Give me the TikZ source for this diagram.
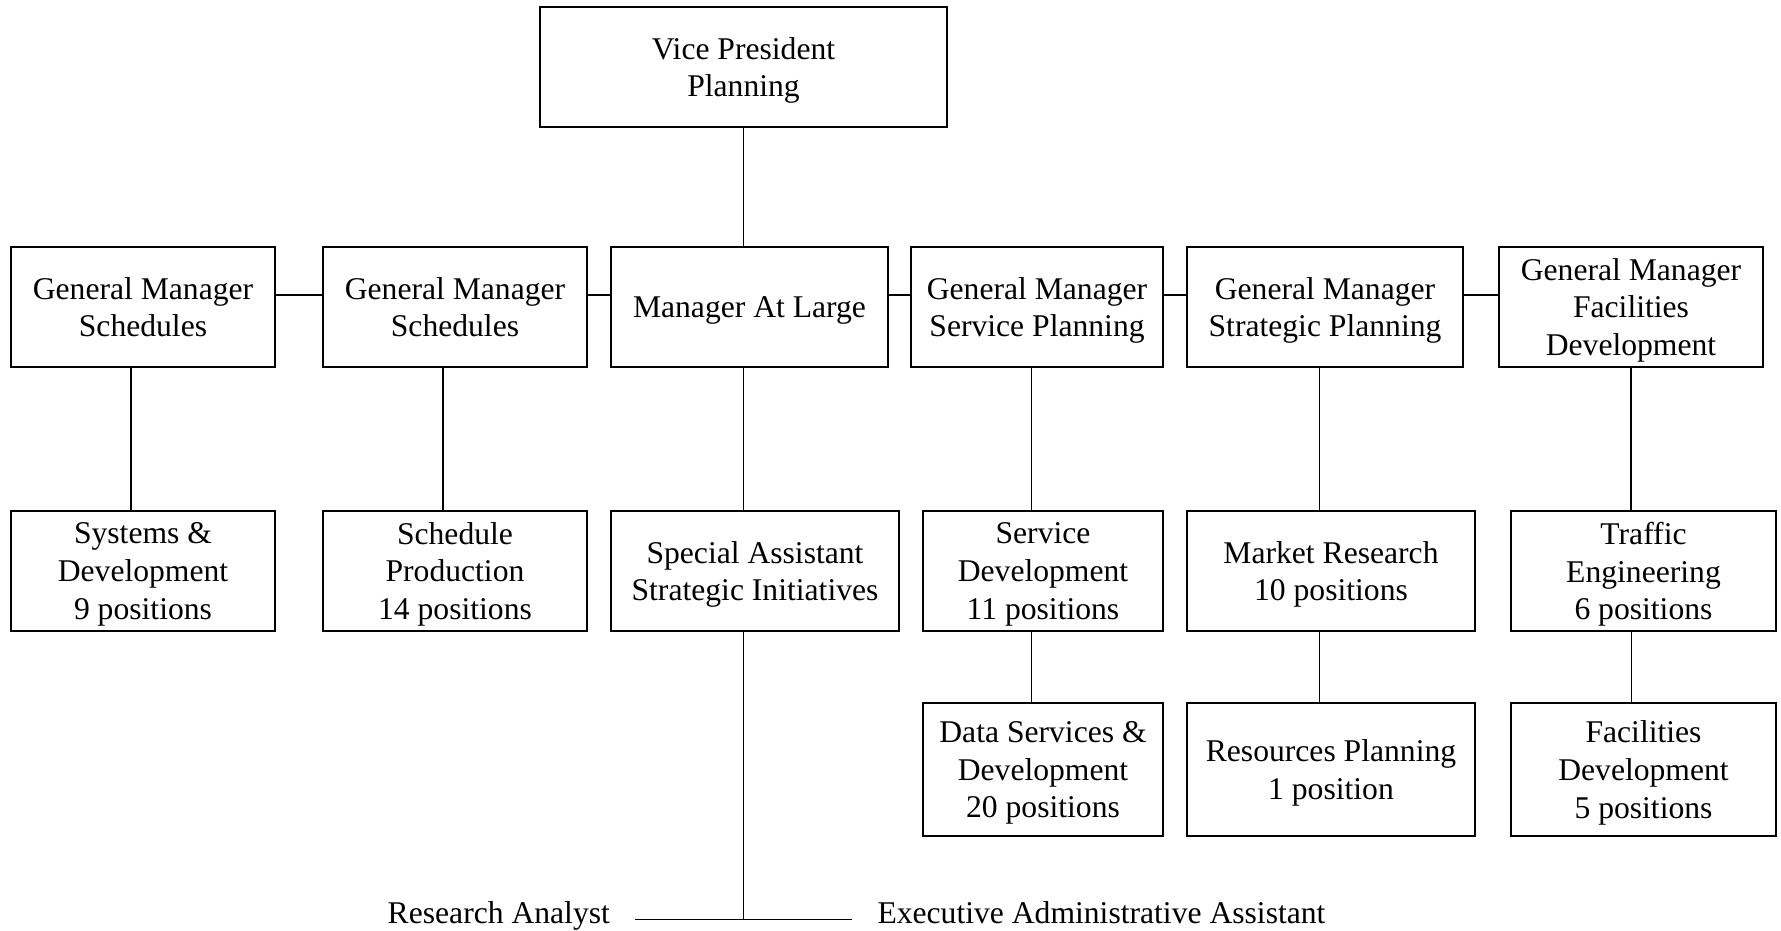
\documentclass[tikz,border=0pt]{standalone}
\usepackage{fontspec}
\setmainfont{Liberation Serif}

\begin{document}
\begin{tikzpicture}[x=0.02cm,y=-0.02cm,line width=0.9pt,
    box node/.style={draw,align=center,inner sep=0pt,text depth=0pt,minimum height=2.4cm,font=\fontsize{18}{21.4}\selectfont},
    tall node/.style={box node,minimum height=2.66cm},
    side label/.style={inner sep=0pt,font=\fontsize{18}{21.4}\selectfont}]
    \useasboundingbox (0,0) rectangle (1781,930);

    % top
    \node[box node,minimum width=8.14cm] (vp) at (743.5,67) {Vice President\\Planning};

    % general managers
    \node[box node,minimum width=5.28cm] (gm1) at (143,307) {General Manager\\Schedules};
    \node[box node,minimum width=5.28cm] (gm2) at (455,307) {General Manager\\Schedules};
    \node[box node,minimum width=5.54cm] (mal) at (749.5,307) {Manager At Large};
    \node[box node,minimum width=5.04cm] (gmsp) at (1037,307) {General Manager\\Service Planning};
    \node[box node,minimum width=5.52cm] (gmstrat) at (1325,307) {General Manager\\Strategic Planning};
    \node[box node,minimum width=5.28cm] (gmfac) at (1631,307) {General Manager\\Facilities\\Development};

    % sections
    \node[box node,minimum width=5.28cm] (sysdev) at (143,571) {Systems \&\\Development\\9 positions};
    \node[box node,minimum width=5.28cm] (schedprod) at (455,571) {Schedule\\Production\\14 positions};
    \node[box node,minimum width=5.76cm] (specasst) at (755,571) {Special Assistant\\Strategic Initiatives};
    \node[box node,minimum width=4.8cm] (servdev) at (1043,571) {Service\\Development\\11 positions};
    \node[box node,minimum width=5.76cm] (mktres) at (1331,571) {Market Research\\10 positions};
    \node[box node,minimum width=5.3cm] (traffic) at (1643.5,571) {Traffic\\Engineering\\6 positions};

    \node[tall node,minimum width=4.8cm] (dataserv) at (1043,769.5) {Data Services \&\\Development\\20 positions};
    \node[tall node,minimum width=5.76cm] (resplan) at (1331,769.5) {Resources Planning\\1 position};
    \node[tall node,minimum width=5.3cm] (facdev) at (1643.5,769.5) {Facilities\\Development\\5 positions};

    % staff under special assistant
    \coordinate (tee) at (743.5,919.3);
    \coordinate (teeL) at (635,919.3);
    \coordinate (teeR) at (851.7,919.3);
    \node[side label,anchor=base east] (analyst) at (610.7,923.3) {Research Analyst};
    \node[side label,anchor=base west] (execasst) at (876.7,923.3) {Executive Administrative Assistant};

    \path
        ([yshift=0.24cm]gm1.east) edge ([yshift=0.24cm]gm2.west)
        ([yshift=0.24cm]gm2.east) edge ([yshift=0.24cm]mal.west)
        ([yshift=0.24cm]mal.east) edge ([yshift=0.24cm]gmsp.west)
        ([yshift=0.24cm]gmsp.east) edge ([yshift=0.24cm]gmstrat.west)
        ([yshift=0.24cm]gmstrat.east) edge ([yshift=0.24cm]gmfac.west)
        (vp.south) edge (vp.south |- mal.north)
        ([xshift=-0.24cm]gm1.south) edge ([xshift=-0.24cm]sysdev.north)
        ([xshift=-0.24cm]gm2.south) edge ([xshift=-0.24cm]schedprod.north)
        ([xshift=-0.12cm]mal.south) edge ([xshift=-0.12cm]mal.south |- specasst.north)
        ([xshift=-0.11cm]gmsp.south) edge ([xshift=-0.11cm]gmsp.south |- servdev.north)
        ([xshift=-0.23cm]servdev.south) edge ([xshift=-0.23cm]dataserv.north)
        ([xshift=-0.11cm]gmstrat.south) edge ([xshift=-0.11cm]gmstrat.south |- mktres.north)
        ([xshift=-0.23cm]mktres.south) edge ([xshift=-0.23cm]resplan.north)
        (gmfac.south) edge (gmfac.south |- traffic.north)
        ([xshift=-0.24cm]traffic.south) edge ([xshift=-0.24cm]facdev.north)
        (specasst.south -| tee) edge (tee)
        (teeL) edge (teeR)
    ;

\end{tikzpicture}
\end{document}
